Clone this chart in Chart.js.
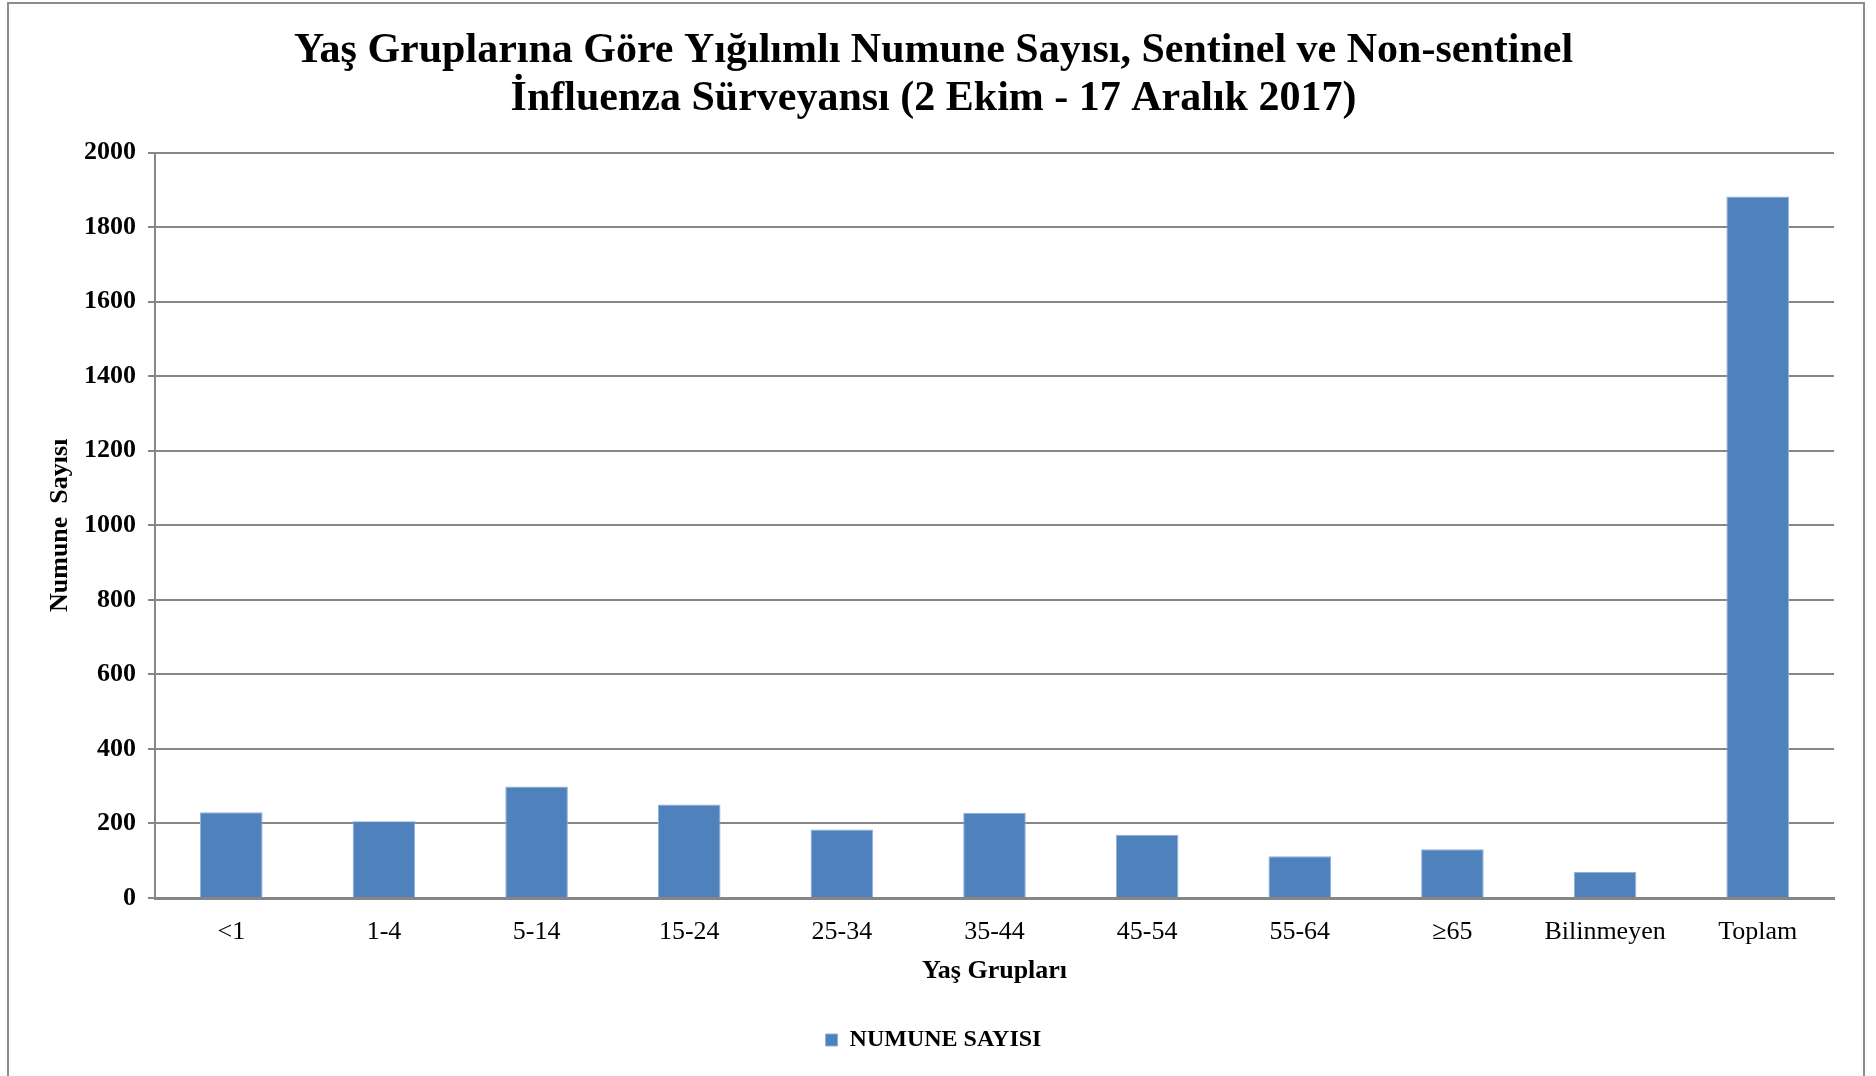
<!DOCTYPE html>
<html>
<head>
<meta charset="utf-8">
<script src="https://cdn.jsdelivr.net/npm/chart.js@4/dist/chart.umd.min.js"></script>
<style>
  html, body { margin: 0; padding: 0; background: #fff; }
  #wrap { width: 1876px; height: 1076px; }
</style>
</head>
<body>
<div id="wrap"><canvas id="chart"></canvas></div>
<script>
const categories = ["<1", "1-4", "5-14", "15-24", "25-34", "35-44", "45-54", "55-64", "≥65", "Bilinmeyen", "Toplam"];
const numuneSayisi = [230, 206, 299, 251, 184, 229, 170, 112, 131, 70, 1882];
const titleLines = [
  "Yaş Gruplarına Göre Yığılımlı Numune Sayısı, Sentinel ve Non-sentinel",
  "İnfluenza Sürveyansı (2 Ekim - 17 Aralık 2017)"
];

const serif = "'Liberation Serif', 'Times New Roman', serif";

// outer frame like the exported picture
const framePlugin = {
  id: "frame",
  afterDraw(chart) {
    const ctx = chart.ctx;
    ctx.save();
    ctx.strokeStyle = "#8c8c8c";
    ctx.lineWidth = 2;
    ctx.strokeRect(8, 3, 1856, 1090);
    ctx.restore();
  }
};

const ctx = document.getElementById("chart").getContext("2d");
new Chart(ctx, {
  type: "bar",
  data: {
    labels: categories,
    datasets: [{
      label: "NUMUNE SAYISI",
      data: numuneSayisi,
      backgroundColor: "#4F81BD",
      borderColor: "#8FB0DA",
      borderWidth: 1,
      barPercentage: 0.41,
      categoryPercentage: 1.0
    }]
  },
  options: {
    responsive: true,
    maintainAspectRatio: false,
    animation: false,
    layout: { padding: { left: 33, right: 42, top: 0, bottom: 14 } },
    plugins: {
      title: {
        display: true,
        text: titleLines,
        color: "#000",
        font: { family: serif, size: 42, weight: "bold", lineHeight: 1.15 },
        padding: { top: 27, bottom: 29 }
      },
      legend: {
        position: "bottom",
        labels: {
          color: "#000",
          boxWidth: 12,
          boxHeight: 12,
          font: { family: serif, size: 24, weight: "bold" }
        }
      },
      tooltip: { enabled: false }
    },
    scales: {
      x: {
        grid: { display: false, drawTicks: false },
        border: { display: true, color: "#868686", width: 3 },
        ticks: { color: "#000", padding: 19, font: { family: serif, size: 26 } },
        title: {
          display: true,
          text: "Yaş Grupları",
          color: "#000",
          font: { family: serif, size: 26, weight: "bold" },
          padding: { top: 0, bottom: 31 }
        },
        afterFit(scale) { scale.height = 120; }
      },
      y: {
        min: 0,
        max: 2000,
        ticks: {
          stepSize: 200,
          color: "#000",
          padding: 12,
          font: { family: serif, size: 26, weight: "bold" },
          callback: (v) => String(v)
        },
        grid: { color: "#868686", lineWidth: 2, tickLength: 7 },
        border: { display: true, color: "#868686", width: 2 },
        title: {
          display: true,
          text: "Numune  Sayısı",
          color: "#000",
          font: { family: serif, size: 26, weight: "bold" },
          padding: { top: 12, bottom: 0 }
        },
        afterFit(scale) { scale.width = 122; }
      }
    }
  },
  plugins: [framePlugin]
});
</script>
</body>
</html>
